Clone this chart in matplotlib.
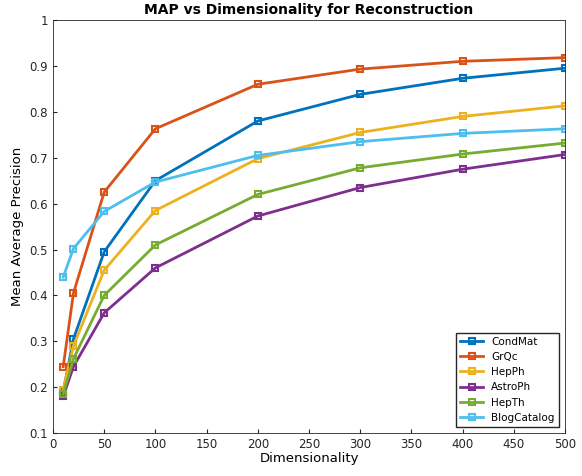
import matplotlib
matplotlib.use("Agg")
import matplotlib.pyplot as plt

dims = [10, 20, 50, 100, 200, 300, 400, 500]
names = ["CondMat", "GrQc", "HepPh", "AstroPh", "HepTh", "BlogCatalog"]
condmat = [0.19, 0.305, 0.495, 0.65, 0.78, 0.838, 0.873, 0.895]
grqc = [0.245, 0.405, 0.625, 0.763, 0.86, 0.893, 0.91, 0.918]
hepph = [0.195, 0.29, 0.455, 0.585, 0.698, 0.755, 0.79, 0.813]
astroph = [0.18, 0.245, 0.362, 0.46, 0.573, 0.635, 0.675, 0.707]
hepth = [0.185, 0.262, 0.40, 0.51, 0.62, 0.678, 0.708, 0.732]
blog = [0.44, 0.502, 0.583, 0.647, 0.705, 0.735, 0.753, 0.763]
series = [condmat, grqc, hepph, astroph, hepth, blog]
colors = ["#0072BD", "#D95319", "#EDB120", "#7E2F8E", "#77AC30", "#4DBEEE"]

fig = plt.figure(figsize=(5.82, 4.76), dpi=100)
ax = fig.add_axes([0.091, 0.09, 0.880, 0.868])
for n, s, c in zip(names, series, colors):
    ax.plot(dims, s, '-s', color=c, lw=2, ms=5, mfc='none', mew=1.5, label=n)
ax.set_xlim(0, 500)
ax.set_ylim(0.1, 1)
ax.set_xticks(range(0, 501, 50))
ax.set_yticks([0.1*i for i in range(1, 11)])
ax.set_yticklabels(["0.1","0.2","0.3","0.4","0.5","0.6","0.7","0.8","0.9","1"])
ax.tick_params(labelsize=8.5, direction='in', length=3, colors='#262626')
for sp in ax.spines.values():
    sp.set_color('#262626'); sp.set_linewidth(0.6)
ax.set_xlabel("Dimensionality", fontsize=9.5, labelpad=1)
ax.set_ylabel("Mean Average Precision", fontsize=9.5)
ax.set_title("MAP vs Dimensionality for Reconstruction", fontsize=10, fontweight='bold', pad=4)
leg = ax.legend(loc='lower right', fontsize=7.5, fancybox=False, edgecolor='#262626', framealpha=1, borderaxespad=0.6, handlelength=2.2)
fig.savefig("out.png", dpi=100)
